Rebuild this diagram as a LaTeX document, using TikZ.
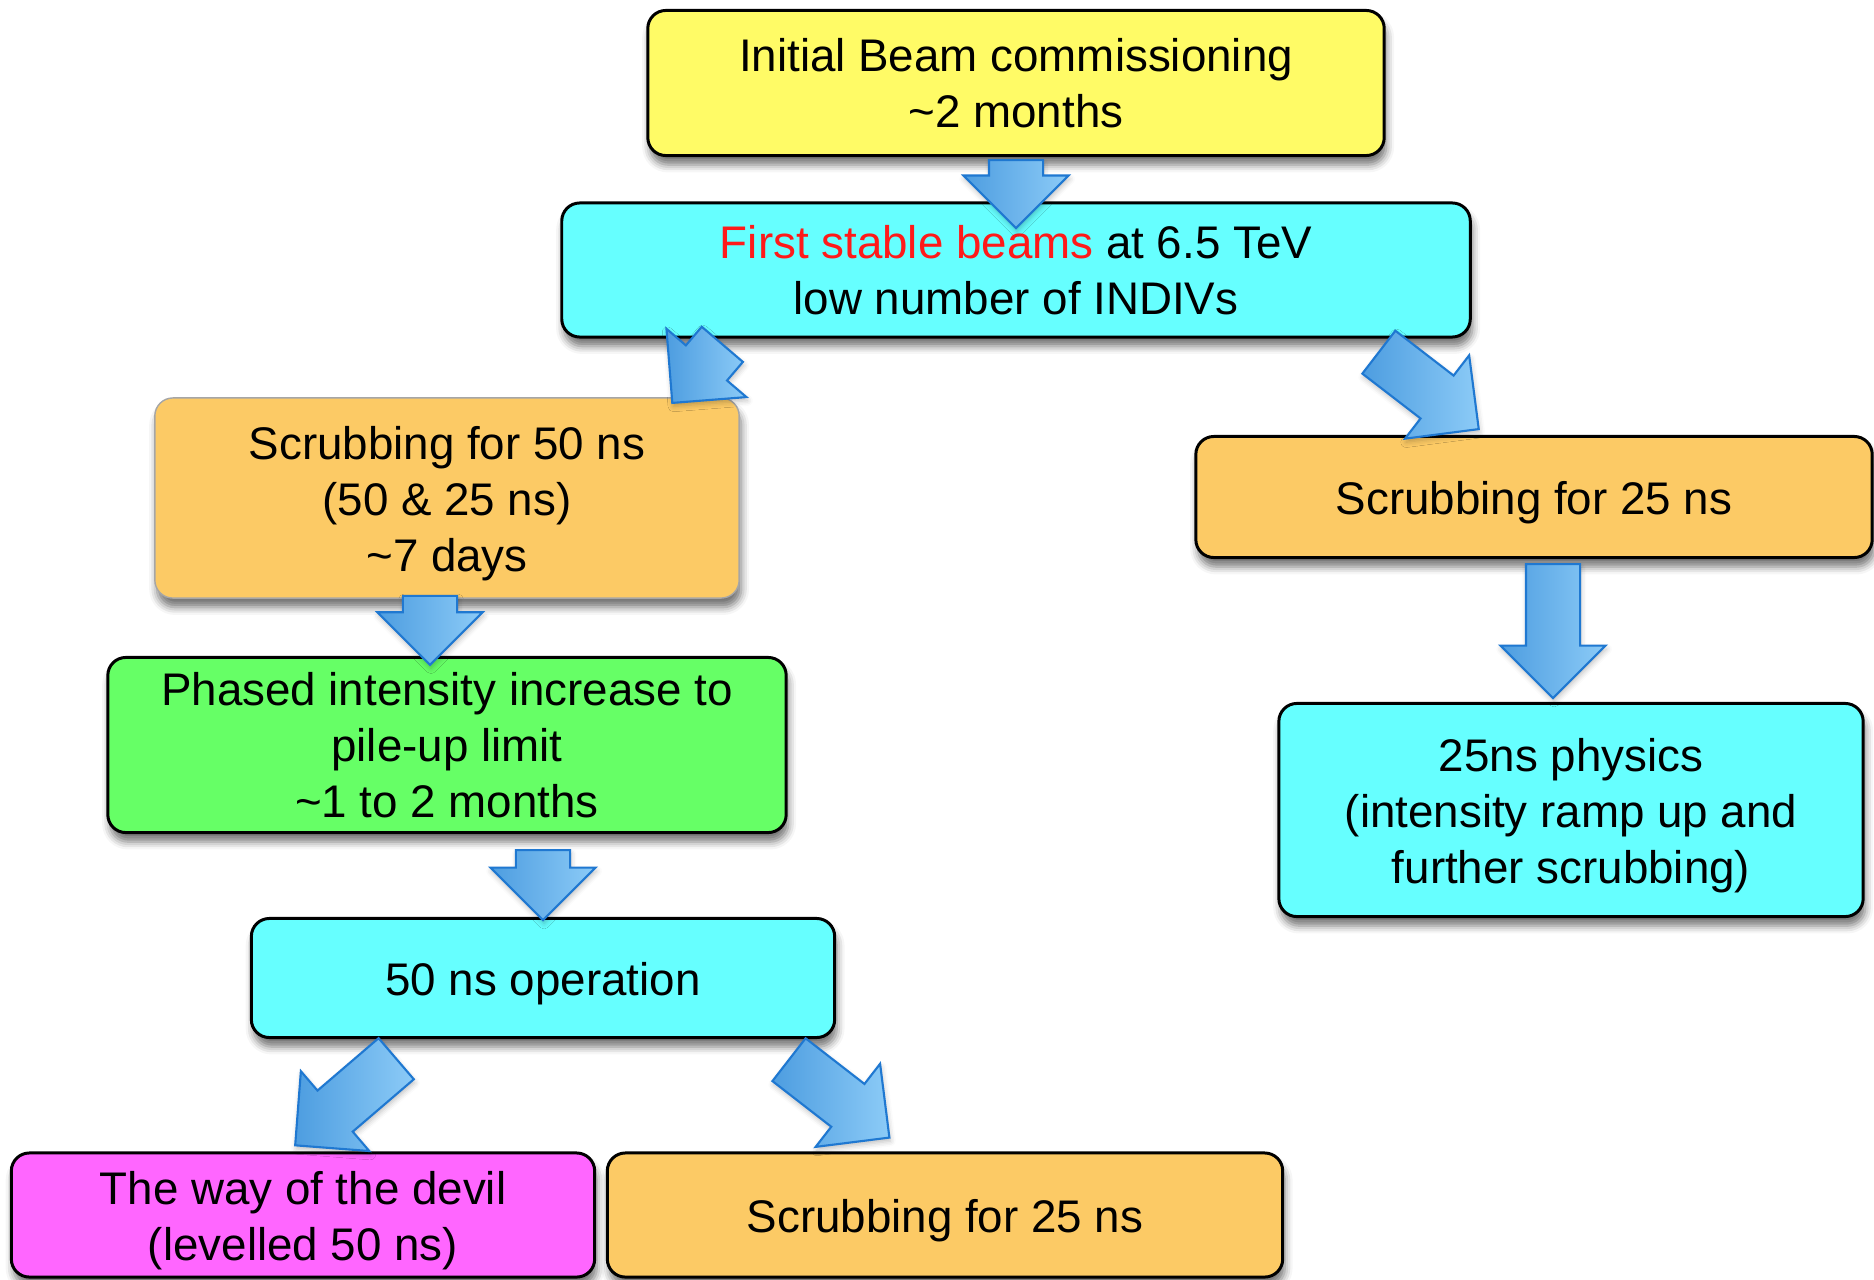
\documentclass[tikz,border=0pt]{standalone}
\usepackage{fontspec}
\setmainfont{Liberation Sans}
\usetikzlibrary{shapes.arrows,shadows.blur,calc}
\definecolor{boxyellow}{HTML}{FFFB66}
\definecolor{boxcyan}{HTML}{66FFFF}
\definecolor{boxorange}{HTML}{FCCA65}
\definecolor{boxgreen}{HTML}{66FF66}
\definecolor{boxmagenta}{HTML}{FF66FF}
\definecolor{beamred}{HTML}{FF1A1A}
\definecolor{arrowline}{HTML}{1F78D1}
\definecolor{arrowdark}{HTML}{4D9DE0}
\definecolor{arrowlight}{HTML}{8CCBF7}

\begin{document}
\begin{tikzpicture}[x=0.01cm,y=-0.01cm,
    every node/.style={font=\fontsize{13}{15.9}\selectfont},
    box/.style={draw=black, line width=0.85pt, rounded corners=0.18cm, inner sep=0pt, align=center,
        blur shadow={shadow xshift=0.6pt, shadow yshift=-2.6pt, shadow blur radius=2.2pt, shadow opacity=55}},
    lowtext/.style={text height=#1},
    fat/.style={single arrow, draw=arrowline, line width=0.6pt, left color=arrowdark, right color=arrowlight,
        inner xsep=0pt, inner ysep=0.26cm, single arrow head extend=0.255cm, anchor=tail,
        blur shadow={shadow xshift=0.3pt, shadow yshift=-1pt, shadow blur radius=1.5pt, shadow opacity=25}}]
    \useasboundingbox (0,0) rectangle (1874,1279);

    % boxes
    \node[box, fill=boxyellow, minimum width=7.36cm, minimum height=1.45cm] (init) at (1016,83)
        {Initial Beam commissioning\\\textasciitilde2 months};
    \node[box, fill=boxcyan, minimum width=9.08cm, minimum height=1.34cm] (first) at (1016,270)
        {\textcolor{beamred}{First stable beams} at 6.5 TeV\\low number of INDIVs};
    \node[box, lowtext=44.6pt, fill=boxorange, draw=gray!70, line width=0.4pt, minimum width=5.84cm, minimum height=2.0cm] (scrubA) at (447,498)
        {Scrubbing for 50 ns\\(50 \& 25 ns)\\\textasciitilde7 days};
    \node[box, lowtext=12.8pt, fill=boxorange, minimum width=6.76cm, minimum height=1.21cm] (scrubB) at (1534,497)
        {Scrubbing for 25 ns};
    \node[box, fill=boxgreen, minimum width=6.78cm, minimum height=1.75cm] (phased) at (447,745)
        {Phased intensity increase to\\pile-up limit\\\textasciitilde1 to 2 months};
    \node[box, lowtext=44.6pt, fill=boxcyan, minimum width=5.84cm, minimum height=2.13cm] (phys) at (1571,810)
        {25ns physics\\(intensity ramp up and\\further scrubbing)};
    \node[box, lowtext=12.8pt, fill=boxcyan, minimum width=5.83cm, minimum height=1.19cm] (op) at (543,978)
        {50 ns operation};
    \node[box, lowtext=28.7pt, fill=boxmagenta, minimum width=5.83cm, minimum height=1.24cm] (devil) at (303,1215)
        {The way of the devil\\(levelled 50 ns)};
    \node[box, lowtext=12.8pt, fill=boxorange, minimum width=6.75cm, minimum height=1.24cm] (scrubC) at (945,1215)
        {Scrubbing for 25 ns};

    % block arrows
    \node[fat, rotate=-90, minimum height=0.68cm] (a1) at ($(init.south)+(0,2)$) {};
    \node[fat, rotate=229.5, minimum height=0.77cm] (a2) at ($(first.south)+(-293,5)$) {};
    \node[fat, rotate=-37.6, minimum height=1.26cm] (a3) at ($(first.south)+(362,13)$) {};
    \node[fat, rotate=-90, minimum height=1.34cm] (a4) at ($(scrubB.south)+(19,4)$) {};
    \node[fat, rotate=-90, minimum height=0.69cm] (a5) at ($(scrubA.south)+(-17,-4)$) {};
    \node[fat, rotate=-90, minimum height=0.70cm] (a6) at ($(phased.south)+(96,15)$) {};
    \node[fat, rotate=220.6, minimum height=1.33cm] (a7) at ($(op.south)+(-146,19)$) {};
    \node[fat, rotate=-37.8, minimum height=1.27cm] (a8) at ($(op.south east)+(-48,20)$) {};
\end{tikzpicture}
\end{document}
